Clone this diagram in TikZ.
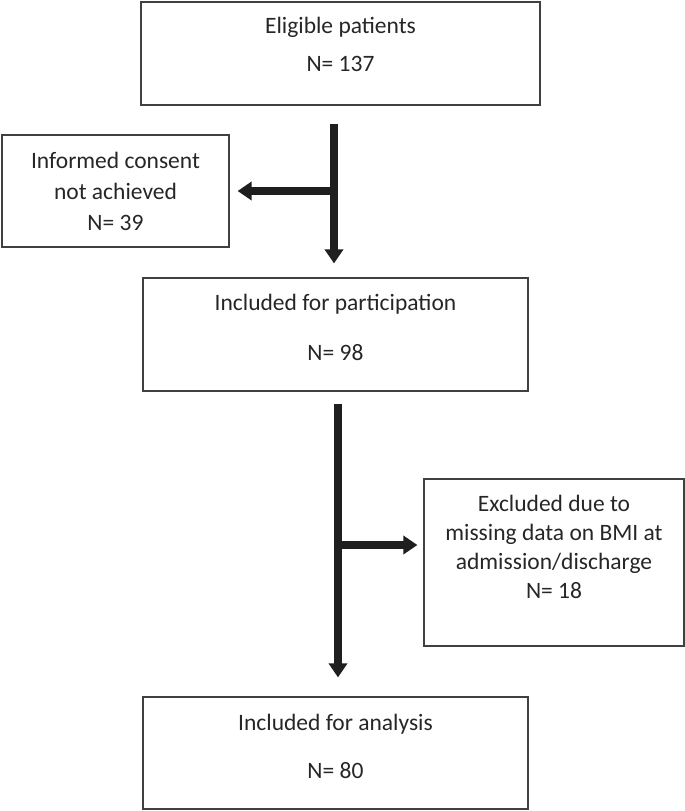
\documentclass[tikz,border=0pt]{standalone}
\usepackage{fontspec}
\setmainfont{Carlito}
\usetikzlibrary{positioning, arrows.meta}

\begin{document}
\begin{tikzpicture}[x=1pt,y=-1pt]
\tikzstyle{every node}=[font=\fontsize{23.5}{29}\selectfont, text=black!85]
\tikzstyle{box}=[draw=black!75, line width=1.2pt, align=center, inner sep=0pt]
\tikzstyle{flow}=[draw=black!88, line width=8pt, -{Triangle[width=18pt,length=14pt]}]

\useasboundingbox (0,0) rectangle (685,811);

\node[box, minimum width=399pt, minimum height=103pt, text depth=19pt] (elig) at (340.5,53.5) {Eligible patients\\[9pt]N= 137};
\node[box, minimum width=227pt, minimum height=112pt] (consent) at (115.5,191) {Informed consent\\[2pt]not achieved\\[2pt]N= 39};
\node[box, minimum width=385pt, minimum height=113pt, text depth=15pt] (partic) at (335.5,334.5) {Included for participation\\[21pt]N= 98};
\node[box, minimum width=260pt, minimum height=167pt, text depth=31pt] (excl) at (554,562.5) {Excluded due to\\missing data on BMI at\\admission/discharge\\N= 18};
\node[box, minimum width=385pt, minimum height=112pt, text depth=14pt, below of=partic, node distance=418.5pt] (analysis) {Included for analysis\\[19pt]N= 80};

\coordinate (s1) at ([xshift=-6.5pt,yshift=-18pt]elig.south);
\coordinate (s2) at ([xshift=2.5pt,yshift=-12pt]partic.south);
\coordinate (e1) at ([xshift=-6pt,yshift=17.5pt]excl.west);

\draw[flow] (s1) -- ([xshift=-1.5pt,yshift=14pt]partic.north);
\draw[flow] (s1 |- consent.east) -- ([xshift=8pt]consent.east);
\draw[flow] (s2) -- ([xshift=2.5pt,yshift=19pt]analysis.north);
\draw[flow] (s2 |- e1) -- (e1);
\end{tikzpicture}
\end{document}
